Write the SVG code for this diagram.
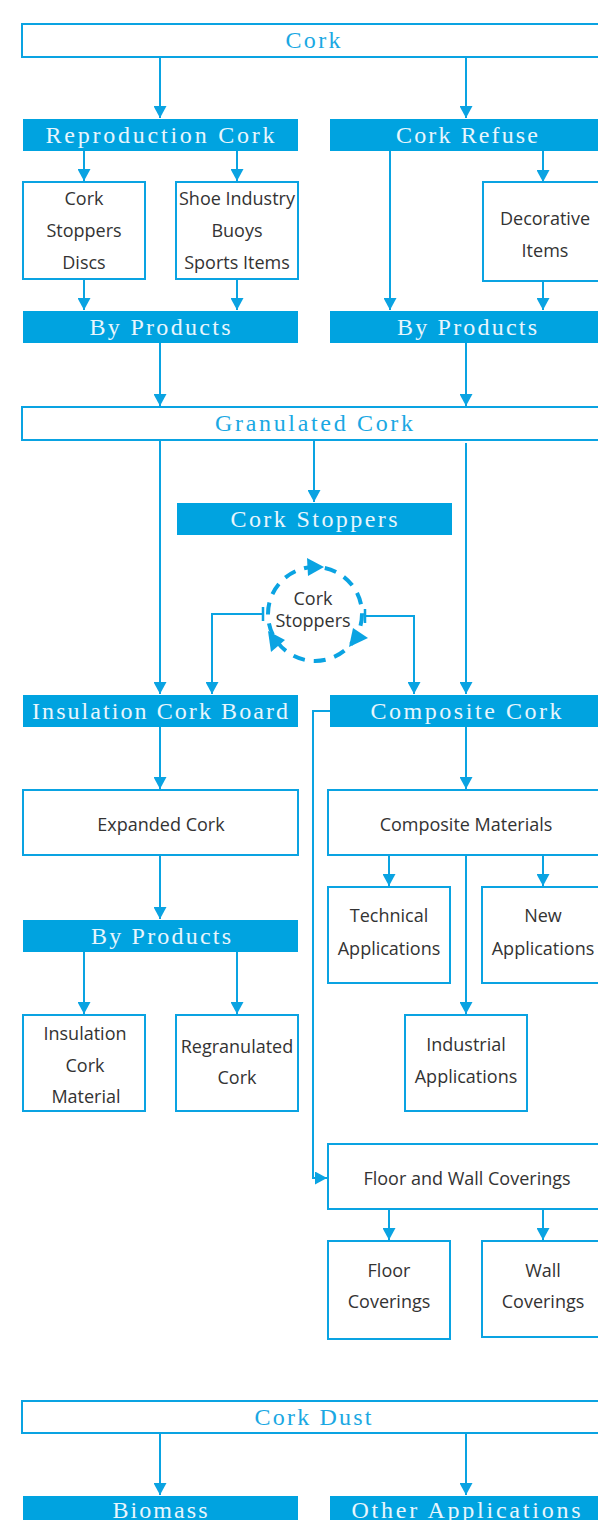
<svg xmlns="http://www.w3.org/2000/svg" width="598" height="1520" viewBox="0 0 598 1520">
<style>
.ob{fill:#fff;stroke:#0aa3e2;stroke-width:2}
.fb{fill:#00a3e0}
.st{font-family:"Liberation Serif","Times New Roman",serif;font-size:24px;text-anchor:middle}
.lt{fill:#e8f6fd}
.bt{fill:#1aa8e3}
.sn{font-family:"Open Sans","Noto Sans",sans-serif;font-size:18px;fill:#333;text-anchor:middle}
.cn{fill:none;stroke:#0aa3e2;stroke-width:2}
</style>
<defs>
<marker id="ah" viewBox="0 0 12 13" refX="12" refY="6.5" markerWidth="12" markerHeight="13" orient="auto" markerUnits="userSpaceOnUse">
<path d="M0,0 L12,6.5 L0,13 z" fill="#0aa3e2"/>
</marker>
</defs>
<rect width="598" height="1520" fill="#fff"/>
<g id="connectors" class="cn" marker-end="url(#ah)">
<path d="M160 57 V118"/>
<path d="M466 57 V118"/>
<path d="M84 151 V181"/>
<path d="M237 151 V181"/>
<path d="M390 151 V310"/>
<path d="M543 151 V182"/>
<path d="M84 279 V310"/>
<path d="M237 279 V310"/>
<path d="M543 281 V310"/>
<path d="M160 343 V406"/>
<path d="M466 343 V406"/>
<path d="M160 440 V694"/>
<path d="M314 440 V502"/>
<path d="M466 443 V694"/>
<path d="M264 614 H212 V694"/>
<path d="M365 616 H414 V694"/>
<path d="M160 727 V789"/>
<path d="M160 855 V919"/>
<path d="M84 952 V1014"/>
<path d="M237 952 V1014"/>
<path d="M466 727 V789"/>
<path d="M389 855 V886"/>
<path d="M543 855 V886"/>
<path d="M466 855 V1014"/>
<path d="M330 711 H313 V1178 H327"/>
<path d="M389 1209 V1240"/>
<path d="M543 1209 V1240"/>
<path d="M160 1433 V1495"/>
<path d="M466 1433 V1495"/>
</g>
<g id="n-cork"><rect class="ob" x="22" y="24" width="584" height="33"/><text class="st bt" x="313" y="48" textLength="55">Cork</text></g>
<g id="n-repro"><rect class="fb" x="23" y="119" width="275" height="32"/><text class="st lt" x="160" y="143" textLength="229">Reproduction Cork</text></g>
<g id="n-refuse"><rect class="fb" x="330" y="119" width="274" height="32"/><text class="st lt" x="467" y="143" textLength="142">Cork Refuse</text></g>
<g id="n-stoppers-discs"><rect class="ob" x="23" y="182" width="122" height="97"/><text class="sn" x="84" y="205">Cork</text><text class="sn" x="84" y="237">Stoppers</text><text class="sn" x="84" y="269">Discs</text></g>
<g id="n-shoe"><rect class="ob" x="176" y="182" width="122" height="97"/><text class="sn" x="237" y="205">Shoe Industry</text><text class="sn" x="237" y="237">Buoys</text><text class="sn" x="237" y="269">Sports Items</text></g>
<g id="n-decorative"><rect class="ob" x="483" y="182" width="122" height="99"/><text class="sn" x="545" y="225">Decorative</text><text class="sn" x="545" y="257">Items</text></g>
<g id="n-bp1"><rect class="fb" x="23" y="311" width="275" height="32"/><text class="st lt" x="160" y="335" textLength="141">By Products</text></g>
<g id="n-bp2"><rect class="fb" x="330" y="311" width="274" height="32"/><text class="st lt" x="467" y="335" textLength="140">By Products</text></g>
<g id="n-granulated"><rect class="ob" x="22" y="407" width="584" height="33"/><text class="st bt" x="314" y="431" textLength="198">Granulated Cork</text></g>
<g id="n-cork-stoppers"><rect class="fb" x="177" y="503" width="275" height="32"/><text class="st lt" x="314" y="527" textLength="167">Cork Stoppers</text></g>
<g id="n-cycle">
<circle cx="315" cy="614" r="47" fill="none" stroke="#0aa3e2" stroke-width="4" stroke-dasharray="12 9"/>
<path d="M263 607 V621 M365 609 V623" stroke="#0aa3e2" stroke-width="2.5" fill="none"/>
<path d="M307 558 L308 576 L324 567 z" fill="#0aa3e2"/>
<path d="M268 631 L271 652 L285 640 z" fill="#0aa3e2"/>
<path d="M353 628 L349 647 L368 638 z" fill="#0aa3e2"/>
<text class="sn" x="313" y="605">Cork</text><text class="sn" x="313" y="627">Stoppers</text>
</g>
<g id="n-insulation"><rect class="fb" x="23" y="695" width="275" height="32"/><text class="st lt" x="160" y="719" textLength="256">Insulation Cork Board</text></g>
<g id="n-composite"><rect class="fb" x="330" y="695" width="274" height="32"/><text class="st lt" x="466" y="719" textLength="191">Composite Cork</text></g>
<g id="n-expanded"><rect class="ob" x="23" y="790" width="275" height="65"/><text class="sn" x="161" y="831">Expanded Cork</text></g>
<g id="n-compmat"><rect class="ob" x="328" y="790" width="278" height="65"/><text class="sn" x="466" y="831">Composite Materials</text></g>
<g id="n-bp3"><rect class="fb" x="23" y="920" width="275" height="32"/><text class="st lt" x="161" y="944" textLength="140">By Products</text></g>
<g id="n-insmat"><rect class="ob" x="23" y="1015" width="122" height="96"/><text class="sn" x="85" y="1040">Insulation</text><text class="sn" x="85" y="1072">Cork</text><text class="sn" x="86" y="1103">Material</text></g>
<g id="n-regran"><rect class="ob" x="176" y="1015" width="122" height="96"/><text class="sn" x="237" y="1053">Regranulated</text><text class="sn" x="237" y="1084">Cork</text></g>
<g id="n-technical"><rect class="ob" x="328" y="887" width="122" height="96"/><text class="sn" x="389" y="922">Technical</text><text class="sn" x="389" y="955">Applications</text></g>
<g id="n-new"><rect class="ob" x="482" y="887" width="122" height="96"/><text class="sn" x="543" y="922">New</text><text class="sn" x="543" y="955">Applications</text></g>
<g id="n-industrial"><rect class="ob" x="405" y="1015" width="122" height="96"/><text class="sn" x="466" y="1051">Industrial</text><text class="sn" x="466" y="1083">Applications</text></g>
<g id="n-floorwall"><rect class="ob" x="328" y="1144" width="278" height="65"/><text class="sn" x="467" y="1185">Floor and Wall Coverings</text></g>
<g id="n-floor"><rect class="ob" x="328" y="1241" width="122" height="98"/><text class="sn" x="389" y="1277">Floor</text><text class="sn" x="389" y="1308">Coverings</text></g>
<g id="n-wall"><rect class="ob" x="482" y="1241" width="122" height="96"/><text class="sn" x="543" y="1277">Wall</text><text class="sn" x="543" y="1308">Coverings</text></g>
<g id="n-corkdust"><rect class="ob" x="22" y="1401" width="584" height="32"/><text class="st bt" x="313" y="1425" textLength="117">Cork Dust</text></g>
<g id="n-biomass"><rect class="fb" x="23" y="1496" width="275" height="32"/><text class="st lt" x="160" y="1518" textLength="95">Biomass</text></g>
<g id="n-other"><rect class="fb" x="330" y="1496" width="274" height="32"/><text class="st lt" x="466" y="1518" textLength="229">Other Applications</text></g>
</svg>
